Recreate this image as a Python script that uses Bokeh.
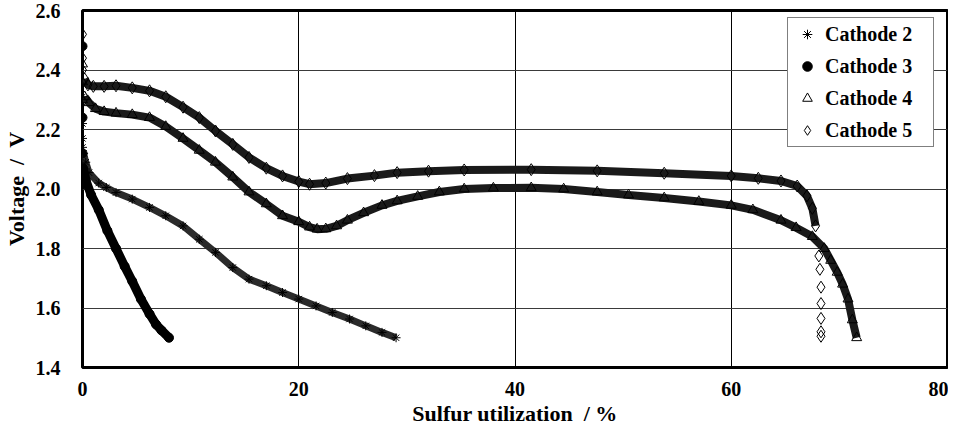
from bokeh.plotting import figure
from bokeh.models import Range1d, FixedTicker, PrintfTickFormatter, Legend, LegendItem
from bokeh.embed import file_html
from bokeh.resources import INLINE

FONT = "Liberation Serif"

x_ticks = [0, 20, 40, 60, 80]
y_ticks = [1.4, 1.6, 1.8, 2.0, 2.2, 2.4, 2.6]
x_title = "Sulfur utilization\u00a0\u00a0/ %"
y_title = "Voltage\u00a0\u00a0/\u00a0\u00a0V"

# Cathode 2 (asterisks)
c2_start_x = [0.0, 0.0, 0.0, 0.0]
c2_start_v = [2.31, 2.22, 2.17, 2.14]
c2_x = [0.1, 0.3, 0.6, 1.5, 2.2, 3.1, 4.6, 6.2, 7.7, 9.3, 10.8, 12.3, 13.9, 15.4,
        17.0, 18.5, 20.0, 21.6, 23.1, 24.7, 26.2, 27.7, 29.0]
c2_v = [2.12, 2.09, 2.055, 2.02, 2.005, 1.988, 1.966, 1.938, 1.91, 1.876, 1.831, 1.787,
        1.736, 1.697, 1.675, 1.652, 1.63, 1.607, 1.585, 1.563, 1.54, 1.518, 1.50]

# Cathode 3 (filled circles)
c3_start_x = [0.0, 0.0, 0.0]
c3_start_v = [2.48, 2.24, 2.12]
c3_x = [0.05, 0.3, 0.8, 1.5, 2.3, 3.1, 3.9, 4.6, 5.4, 6.2, 6.8, 7.3, 8.0]
c3_v = [2.07, 2.03, 1.98, 1.93, 1.86, 1.80, 1.74, 1.69, 1.63, 1.58, 1.545, 1.525, 1.50]

# Cathode 4 (open triangles)
c4_start_x = [0.0, 0.0, 0.0]
c4_start_v = [2.42, 2.36, 2.30]
c4_x = [0.2, 0.6, 1.2, 2.0, 3.1, 4.6, 6.2, 7.7, 9.3, 10.8, 12.3, 13.9, 15.4, 17.0,
        18.5, 20.0, 21.0, 21.7, 22.5, 23.5, 24.5, 26.0, 27.7, 29.1, 31.0, 33.0, 35.3,
        38.0, 41.5, 44.5, 47.6, 50.5, 53.8, 57.0, 60.0, 62.0, 64.6, 66.0, 67.5, 68.6,
        69.2, 69.8, 70.3, 70.8, 71.2, 71.6]
c4_v = [2.31, 2.29, 2.27, 2.26, 2.255, 2.25, 2.24, 2.21, 2.17, 2.13, 2.09, 2.04, 1.99,
        1.95, 1.91, 1.89, 1.872, 1.865, 1.866, 1.876, 1.895, 1.92, 1.945, 1.96, 1.975,
        1.99, 2.0, 2.003, 2.004, 2.0, 1.99, 1.98, 1.97, 1.958, 1.945, 1.93, 1.895, 1.87,
        1.84, 1.80, 1.76, 1.72, 1.68, 1.63, 1.56, 1.50]

# Cathode 5 (open diamonds)
c5_start_x = [0.0, 0.0, 0.0]
c5_start_v = [2.52, 2.44, 2.40]
c5_x = [0.2, 0.5, 1.0, 2.0, 3.1, 4.6, 6.2, 7.7, 9.3, 10.8, 12.3, 13.9, 15.4, 17.0,
        18.5, 20.0, 21.0, 22.5, 24.5, 27.0, 29.1, 32.0, 35.3, 41.5, 47.6, 53.8, 60.0,
        62.5, 64.6, 66.1, 67.0, 67.5, 67.8]
c5_v = [2.37, 2.35, 2.345, 2.345, 2.347, 2.34, 2.33, 2.31, 2.275, 2.24, 2.195, 2.15,
        2.106, 2.07, 2.044, 2.025, 2.016, 2.02, 2.035, 2.045, 2.055, 2.06, 2.064, 2.065,
        2.061, 2.053, 2.044, 2.036, 2.027, 2.01, 1.977, 1.935, 1.876]
c5_tail_x = [68.1, 68.2, 68.3, 68.3, 68.3, 68.3, 68.3]
c5_tail_v = [1.775, 1.73, 1.67, 1.615, 1.565, 1.52, 1.505]

p = figure(frame_width=865, frame_height=357,
           x_range=Range1d(0, 80), y_range=Range1d(1.4, 2.6),
           output_backend="svg", toolbar_location=None,
           min_border_left=77, min_border_right=1, min_border_top=10,
           min_border_bottom=40)

p.background_fill_color = "white"
p.border_fill_color = "white"
p.outline_line_color = "black"
p.outline_line_width = 3

for ax in (p.xaxis, p.yaxis):
    ax.axis_line_color = None
    ax.major_tick_line_color = None
    ax.minor_tick_line_color = None
    ax.major_label_text_font = FONT
    ax.major_label_text_font_style = "bold"
    ax.major_label_text_font_size = "20px"
    ax.major_label_text_color = "black"
    ax.axis_label_text_font = FONT
    ax.axis_label_text_font_style = "bold"
    ax.axis_label_text_font_size = "22px"
    ax.axis_label_text_color = "black"

p.xaxis.ticker = FixedTicker(ticks=x_ticks)
p.yaxis.ticker = FixedTicker(ticks=y_ticks)
p.yaxis.formatter = PrintfTickFormatter(format="%.1f")
p.xaxis.axis_label = x_title
p.yaxis.axis_label = y_title
p.xaxis.major_label_standoff = 8
p.xaxis.axis_label_standoff = 2
p.yaxis.major_label_standoff = 16
p.yaxis.axis_label_standoff = 4

p.xgrid.ticker = FixedTicker(ticks=x_ticks)
p.ygrid.ticker = FixedTicker(ticks=y_ticks)
p.xgrid.grid_line_color = "black"
p.ygrid.grid_line_color = "#3a3a3a"
p.xgrid.grid_line_width = 1
p.ygrid.grid_line_width = 1

BAND = "#1a1a1a"

# bands
p.line(c2_x, c2_v, line_width=7, line_color="#2b2b2b")
p.line(c3_x, c3_v, line_width=9, line_color="black")
p.line(c4_x, c4_v, line_width=8, line_color=BAND)
p.line(c5_x, c5_v, line_width=8, line_color=BAND)

r2 = p.scatter(c2_x, c2_v, marker="asterisk", size=9, line_color="black", line_width=1)
p.scatter(c2_start_x, c2_start_v, marker="asterisk", size=9, line_color="black")
r3 = p.scatter(c3_x, c3_v, marker="circle", size=9, fill_color="black", line_color="black")
p.scatter(c3_start_x, c3_start_v, marker="circle", size=9, fill_color="black", line_color="black")
r4 = p.scatter(c4_x, c4_v, marker="triangle", size=10, fill_color=None, line_color="black")
p.scatter(c4_start_x, c4_start_v, marker="triangle", size=10, fill_color=None, line_color="black")
r5 = p.scatter(c5_x, c5_v, marker="diamond", size=12, fill_color=None, line_color="black")
p.scatter(c5_start_x, c5_start_v, marker="diamond", size=12, fill_color=None, line_color="black")
p.scatter(c5_tail_x, c5_tail_v, marker="diamond", size=12, fill_color=None, line_color="black")

legend = Legend(items=[
    LegendItem(label="Cathode 2", renderers=[r2]),
    LegendItem(label="Cathode 3", renderers=[r3]),
    LegendItem(label="Cathode 4", renderers=[r4]),
    LegendItem(label="Cathode 5", renderers=[r5]),
], location=(705, 220))
legend.margin = 0
legend.padding = 4
legend.spacing = 8
legend.label_height = 24
legend.glyph_height = 24
legend.glyph_width = 30
legend.label_standoff = 3
legend.label_width = 104
legend.label_text_font = FONT
legend.label_text_font_style = "bold"
legend.label_text_font_size = "20px"
legend.label_text_color = "black"
legend.border_line_color = "black"
legend.border_line_width = 1
legend.background_fill_color = "white"
legend.background_fill_alpha = 1
p.add_layout(legend)

open("out.html", "w").write(file_html(p, INLINE))
